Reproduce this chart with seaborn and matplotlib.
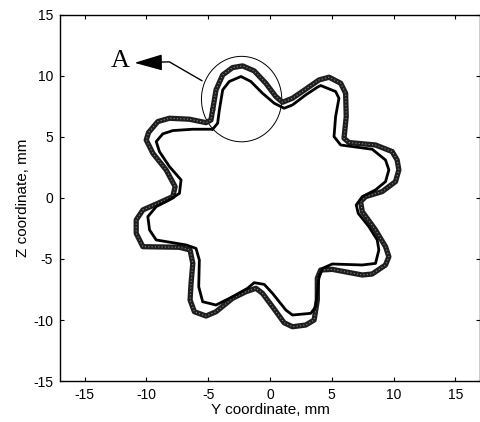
import numpy as np
import pandas as pd
import matplotlib
matplotlib.use("Agg")
import matplotlib.pyplot as plt
from matplotlib.patches import Ellipse
import seaborn as sns

# Inner (solid) profile
inner_y = [-4.64, -4.24, -4.10, -3.83, -3.30, -2.35, -1.55, -0.61, 0.34, 1.14,
           1.82, 2.89, 3.83, 4.10, 5.31, 5.58, 5.31, 5.18, 5.72, 6.66,
           8.27, 9.35, 9.62, 9.35, 8.54, 7.47, 6.98, 7.14, 8.00, 8.68,
           8.81, 8.54, 7.47, 5.04, 4.24, 3.97, 3.70, 3.30, 1.82, 1.28,
           0.20, -0.47, -1.28, -1.82, -3.03, -4.37, -5.45, -5.77, -5.72, -5.99,
           -6.79, -9.21, -9.75, -9.89, -9.21, -8.14, -7.33, -7.20, -8.14, -8.95,
           -9.21, -8.68, -7.87, -6.25, -4.64]
inner_z = [5.63, 6.12, 7.21, 8.85, 9.54, 9.95, 9.54, 8.58, 7.76, 7.35,
           7.62, 8.44, 9.07, 9.21, 8.72, 8.17, 6.67, 5.03, 4.34, 4.21,
           3.99, 3.11, 2.30, 1.34, 0.66, 0.11, -0.57, -1.26, -2.35, -3.44,
           -4.26, -5.36, -5.49, -5.41, -5.77, -6.45, -8.91, -9.45, -9.59, -9.18,
           -7.81, -7.08, -6.94, -7.40, -8.09, -8.77, -8.50, -7.27, -5.08, -4.13,
           -3.85, -3.44, -2.62, -1.53, -0.71, -0.16, 0.38, 1.48, 2.57, 3.80,
           4.62, 5.25, 5.52, 5.63, 5.63]

# Outer (dotted) profile
outer_y = [-4.64, -4.37, -3.83, -3.03, -2.22, -1.28, -0.34, 0.47, 1.01, 1.82,
           2.89, 3.97, 4.78, 5.72, 6.12, 6.17, 5.99, 6.39, 8.54, 9.89,
           10.29, 10.43, 10.16, 9.08, 7.74, 7.33, 7.47, 8.54, 9.35, 9.62,
           9.35, 8.27, 7.47, 5.04, 4.10, 3.83, 3.83, 3.57, 2.89, 1.82,
           1.14, 0.20, -0.61, -1.14, -1.95, -3.03, -4.37, -5.18, -6.12, -6.47,
           -6.39, -6.25, -6.47, -7.33, -10.29, -10.83, -10.83, -10.29, -9.08, -7.87,
           -7.68, -8.41, -9.48, -10.02, -9.83, -9.08, -8.14, -6.52, -5.18, -4.78,
           -4.64]
outer_z = [7.21, 8.85, 10.08, 10.68, 10.82, 10.41, 9.40, 8.31, 7.84, 8.17,
           8.91, 9.67, 9.89, 9.40, 8.58, 6.67, 4.89, 4.54, 4.34, 3.80,
           3.11, 2.30, 1.34, 0.52, 0.11, -0.30, -1.12, -2.62, -3.99, -4.81,
           -5.49, -6.23, -6.31, -5.85, -5.90, -6.58, -8.36, -10.00, -10.41, -10.55,
           -10.22, -8.91, -7.81, -7.40, -7.68, -8.22, -9.32, -9.67, -9.32, -8.36,
           -6.99, -5.36, -4.26, -4.04, -3.99, -2.90, -1.80, -0.98, -0.44, 0.11,
           0.93, 2.30, 3.66, 4.75, 5.36, 6.26, 6.53, 6.45, 6.17, 6.39,
           7.21]

ticks = [-15, -10, -5, 0, 5, 10, 15]

sns.set_theme(style="white")
plt.rcParams['font.family'] = ['Liberation Sans', 'DejaVu Sans']

fig = plt.figure(figsize=(4.81, 4.22), dpi=100)
ax = fig.add_axes([0.1247, 0.097, 0.8733, 0.8678])

df_in = pd.DataFrame({"Y": inner_y, "Z": inner_z})
df_out = pd.DataFrame({"Y": outer_y, "Z": outer_z})

sns.lineplot(data=df_out, x="Y", y="Z", sort=False, estimator=None, ax=ax,
             color="#1e1e1e", lw=3.8, solid_joinstyle="round")
sns.lineplot(data=df_out, x="Y", y="Z", sort=False, estimator=None, ax=ax,
             color="#8a8a8a", lw=0.8, linestyle=(0, (1.0, 2.0)))
sns.lineplot(data=df_in, x="Y", y="Z", sort=False, estimator=None, ax=ax,
             color="black", lw=2.0, solid_joinstyle="round")

ax.add_patch(Ellipse((-2.3, 8.1), 6.5, 7.0, fill=False, ec="black", lw=0.7))
ax.plot([-5.5, -8.15, -9.2], [9.6, 11.15, 11.12], color="black", lw=1.0)
ax.annotate("", xy=(-10.97, 11.07), xytext=(-8.9, 11.1),
            arrowprops=dict(arrowstyle="-|>,head_length=1.45,head_width=0.42",
                            color="black", lw=1.0, shrinkA=0, shrinkB=0))
ax.text(-12.14, 11.19, "A", fontsize=19, family=['Liberation Serif'],
        ha="center", va="center", color="black")

ax.set_xlim(-17, 17)
ax.set_ylim(-15, 15)
ax.set_xticks(ticks)
ax.set_yticks(ticks)
ax.set_xticklabels([str(t) for t in ticks])
ax.set_yticklabels([str(t) for t in ticks])
ax.tick_params(direction="in", length=3, width=0.8, labelsize=10, colors="black",
               top=True, right=True, bottom=True, left=True, pad=5)
for s in ax.spines.values():
    s.set_color("black")
    s.set_linewidth(1.0)
    s.set_visible(True)
ax.set_xlabel("Y coordinate, mm", fontsize=11, labelpad=1, color="black")
ax.set_ylabel("Z coordinate, mm", fontsize=11, labelpad=2, color="black")
ax.grid(False)
ax.set_facecolor("white")

fig.savefig("out.png", dpi=100, facecolor="white")
